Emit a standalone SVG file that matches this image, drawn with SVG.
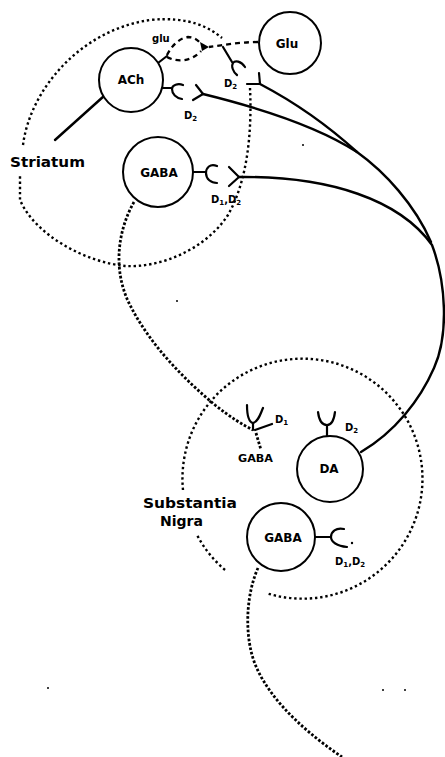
<svg xmlns="http://www.w3.org/2000/svg" width="445" height="757" viewBox="0 0 445 757">
<style>
.cell{fill:#fff;stroke:#000;stroke-width:2}
.axon{fill:none;stroke:#000;stroke-width:2.4;stroke-linecap:round;stroke-linejoin:round}
.rec{fill:none;stroke:#000;stroke-width:2.2;stroke-linecap:round;stroke-linejoin:round}
.dot{fill:none;stroke:#000;stroke-width:2.4;stroke-dasharray:2.4 2.8}
.dotk{fill:none;stroke:#000;stroke-width:2.8;stroke-dasharray:2.6 1.9}
.dash{fill:none;stroke:#000;stroke-width:2.3;stroke-dasharray:5 4}
text{font-family:"DejaVu Sans","Liberation Sans",sans-serif;font-weight:bold;fill:#000}
.nl{font-size:12px;text-anchor:middle}
.sl{font-size:10px}
.sub{font-size:7px}
.big{font-size:14px}
.speck{fill:#000}
</style>
<rect width="445" height="757" fill="#fff"/>

<g id="regions">
  <path class="dot" d="M 23,145 C 30,90 80,30 150,20 C 190,16 210,28 222,38"/>
  <path class="dot" d="M 250,88 C 252,130 248,180 228,215 C 205,250 160,268 125,266 C 85,262 35,235 20,200 L 20,176"/>
  <path class="dot" d="M 183,490 A 120 120 0 1 1 266,593"/>
  <path class="dot" d="M 225,570 A 120 120 0 0 1 197,535"/>
  <text class="big" x="10" y="167" textLength="75" lengthAdjust="spacingAndGlyphs">Striatum</text>
  <text class="big" x="143" y="508" font-size="15" textLength="94" lengthAdjust="spacingAndGlyphs">Substantia</text>
  <text class="big" x="160" y="526" font-size="15" textLength="43" lengthAdjust="spacingAndGlyphs">Nigra</text>
</g>

<g id="connectors">
  <path class="axon" d="M 203,94 C 260,108 320,128 357,152 C 385,172 415,205 431,242"/>
  <path class="axon" d="M 260,84 C 300,105 335,132 357,152"/>
  <path class="axon" d="M 239,177 C 330,176 400,200 432,245 C 446,282 449,335 434,368 C 420,400 395,432 361,452"/>
  <path class="axon" d="M 104,96 L 55,140"/>
  <path class="dash" d="M 258,42 C 240,42 225,45 209,47"/>
  <path class="dash" d="M 167,55 C 172,45 180,38 188,37 C 194,37 198,40 201,44"/>
  <path class="dash" d="M 167,57 C 178,63 192,61 201,51"/>
  <polygon points="200,42 209,47 202,51" fill="#000"/>
  <path class="rec" d="M 158,63 L 167,56"/>
  <path class="dotk" d="M 134,202 C 118,230 112,270 130,305 C 150,345 185,380 215,405 C 230,417 243,425 253,430"/>
  <path class="dotk" d="M 258,568 C 248,590 244,625 252,655 C 262,690 295,725 342,757"/>
</g>

<g id="n-ach">
  <circle class="cell" cx="131" cy="80" r="32"/>
  <text class="nl" x="131" y="84">ACh</text>
  <text class="sl" x="152" y="42">glu</text>
  <path class="rec" d="M 163,88 L 172,88 M 183,85 C 178,83 172,85 172,89 C 172,94 176,98 182,99"/>
  <path class="rec" d="M 196,85 Q 200,90 203,94 M 193,100 Q 198,97 203,94"/>
  <text class="sl" x="184" y="119">D<tspan class="sub" dy="2">2</tspan></text>
</g>

<g id="n-glu">
  <circle class="cell" cx="290" cy="43" r="31"/>
  <text class="nl" x="287" y="48">Glu</text>
  <path class="rec" d="M 223,47 L 232,62 M 245,67 C 241,61 235,60 233,63 C 231,66 233,72 237,75"/>
  <path class="rec" d="M 247,84 L 260,84 M 259,73 L 260,84"/>
  <text class="sl" x="224" y="87">D<tspan class="sub" dy="2">2</tspan></text>
</g>

<g id="n-gaba-str">
  <circle class="cell" cx="158" cy="172" r="35"/>
  <text class="nl" x="159" y="177">GABA</text>
  <path class="rec" d="M 193,172 L 206,172 M 217,166 C 210,163 206,168 206,173 C 206,179 211,183 217,183"/>
  <path class="rec" d="M 229,167 L 239,177 M 229,186 L 239,177"/>
  <text class="sl" x="211" y="203">D<tspan class="sub" dy="2">1</tspan><tspan dy="-2">,D</tspan><tspan class="sub" dy="2">2</tspan></text>
</g>

<g id="n-d1-terminal">
  <path class="rec" d="M 247,405 C 247,415 249,422 253,423 C 258,422 260,415 263,408 M 253,423 L 253,430 M 255,430 L 272,424"/>
  <path class="dotk" d="M 256,433 L 261,450"/>
  <text class="sl" x="275" y="423">D<tspan class="sub" dy="2">1</tspan></text>
  <text class="sl" x="238" y="462" font-size="9" textLength="35" lengthAdjust="spacingAndGlyphs">GABA</text>
</g>

<g id="n-da">
  <circle class="cell" cx="330" cy="469" r="33"/>
  <text class="nl" x="329" y="473" font-size="13">DA</text>
  <path class="rec" d="M 318,412 C 319,420 322,425 327,425 C 332,425 334,420 335,412 M 327,425 L 327,436"/>
  <text class="sl" x="345" y="431">D<tspan class="sub" dy="2">2</tspan></text>
</g>

<g id="n-gaba-sn">
  <circle class="cell" cx="281" cy="537" r="34"/>
  <text class="nl" x="283" y="542">GABA</text>
  <path class="rec" d="M 315,537 L 331,537 M 344,529 C 336,527 331,532 331,537 C 331,542 337,546 347,547"/>
  <circle class="speck" cx="352" cy="543" r="1.2"/>
  <text class="sl" x="335" y="565">D<tspan class="sub" dy="2">1</tspan><tspan dy="-2">,D</tspan><tspan class="sub" dy="2">2</tspan></text>
</g>

<g id="specks">
  <circle class="speck" cx="303" cy="145" r="1"/>
  <circle class="speck" cx="177" cy="301" r="1"/>
  <circle class="speck" cx="48" cy="688" r="1"/>
  <circle class="speck" cx="383" cy="690" r="1"/>
  <circle class="speck" cx="405" cy="690" r="1"/>
</g>
</svg>
